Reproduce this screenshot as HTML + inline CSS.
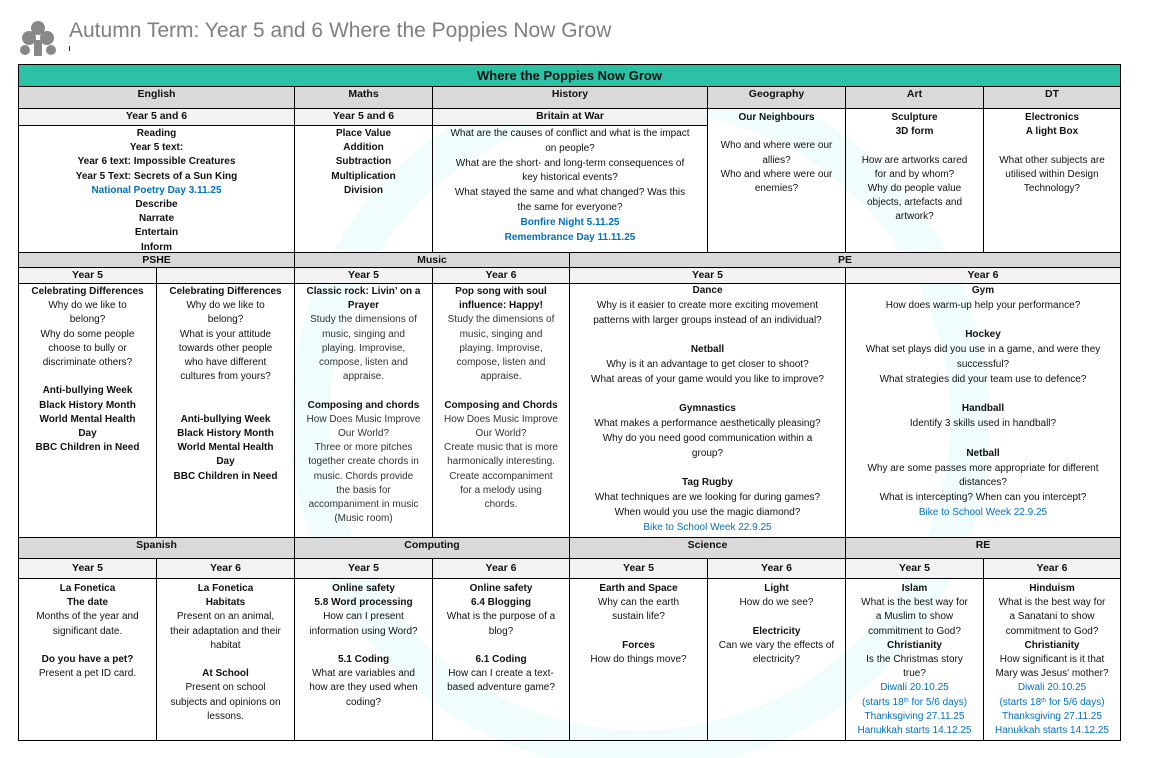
<!DOCTYPE html>
<html><head><meta charset="utf-8"><style>
*{margin:0;padding:0;box-sizing:border-box}
body{width:1151px;height:758px;background:#fff;position:relative;overflow:hidden;font-family:"Liberation Sans",sans-serif;color:#111}
.c{position:absolute;border:1px solid #000;text-align:center;font-size:10px;line-height:14.2px;overflow:hidden;padding:0 1px}
.s{background:#d9d9d9;font-weight:bold;line-height:15px;font-size:10.5px}
.y{background:#f2f2f2;font-weight:bold;line-height:15px;font-size:10.5px}
.t{padding-top:1px}
b{font-weight:bold}
.bl{color:#0070c0}
.g{color:#333}
</style></head><body>
<svg style="position:absolute;left:0;top:0" width="1151" height="758">
<circle cx="640" cy="420" r="330" fill="none" stroke="#f1fcfc" stroke-width="40"/>
<g fill="#888"><circle cx="38" cy="28" r="7"/><circle cx="29" cy="38" r="7"/><circle cx="47" cy="38" r="7"/><rect x="34" y="40" width="8" height="16"/><circle cx="25" cy="50" r="5"/><circle cx="51" cy="50" r="5"/></g>
</svg>
<div style="position:absolute;left:69px;top:19px;font-size:21px;color:#7f7f7f">Autumn Term: Year 5 and 6 Where the Poppies Now Grow</div>
<div style="position:absolute;left:69px;top:46px;width:1px;height:5px;background:#333"></div>

<div class="c" style="left:18px;top:64px;width:1103px;height:23px;background:#2cc0a4;font-weight:bold;font-size:13px;line-height:22px">Where the Poppies Now Grow</div>

<div class="c s" style="left:18px;top:86px;width:277px;height:23px">English</div>
<div class="c s" style="left:294px;top:86px;width:139px;height:23px">Maths</div>
<div class="c s" style="left:432px;top:86px;width:276px;height:23px">History</div>
<div class="c s" style="left:707px;top:86px;width:139px;height:23px">Geography</div>
<div class="c s" style="left:845px;top:86px;width:139px;height:23px">Art</div>
<div class="c s" style="left:983px;top:86px;width:138px;height:23px">DT</div>

<div class="c y" style="left:18px;top:108px;width:277px;height:18px">Year 5 and 6</div>
<div class="c y" style="left:294px;top:108px;width:139px;height:18px">Year 5 and 6</div>
<div class="c y" style="left:432px;top:108px;width:276px;height:18px">Britain at War</div>

<div class="c t" style="left:18px;top:125px;width:277px;height:128px"><b>Reading<br>Year 5 text:<br>Year 6 text: Impossible Creatures<br>Year 5 Text: Secrets of a Sun King<br><span class="bl">National Poetry Day 3.11.25</span><br>Describe<br>Narrate<br>Entertain<br>Inform</b></div>
<div class="c t" style="left:294px;top:125px;width:139px;height:128px"><b>Place Value<br>Addition<br>Subtraction<br>Multiplication<br>Division</b></div>
<div class="c t" style="left:432px;top:125px;width:276px;height:128px;line-height:14.8px">What are the causes of conflict and what is the impact<br>on people?<br>What are the short- and long-term consequences of<br>key historical events?<br>What stayed the same and what changed? Was this<br>the same for everyone?<br><b class="bl">Bonfire Night 5.11.25</b><br><b class="bl">Remembrance Day 11.11.25</b></div>
<div class="c" style="left:707px;top:108px;width:139px;height:145px;padding-top:2px"><b>Our Neighbours</b><br><br>Who and where were our<br>allies?<br>Who and where were our<br>enemies?</div>
<div class="c" style="left:845px;top:108px;width:139px;height:145px;padding-top:2px"><b>Sculpture<br>3D form</b><br><br>How are artworks cared<br>for and by whom?<br>Why do people value<br>objects, artefacts and<br>artwork?</div>
<div class="c" style="left:983px;top:108px;width:138px;height:145px;padding-top:2px"><b>Electronics<br>A light Box</b><br><br>What other subjects are<br>utilised within Design<br>Technology?</div>

<div class="c s" style="left:18px;top:252px;width:277px;height:16px;line-height:14px">PSHE</div>
<div class="c s" style="left:294px;top:252px;width:276px;height:16px;line-height:14px">Music</div>
<div class="c s" style="left:569px;top:252px;width:552px;height:16px;line-height:14px">PE</div>

<div class="c y" style="left:18px;top:267px;width:139px;height:17px;line-height:15px">Year 5</div>
<div class="c y" style="left:156px;top:267px;width:139px;height:17px"></div>
<div class="c y" style="left:294px;top:267px;width:139px;height:17px;line-height:15px">Year 5</div>
<div class="c y" style="left:432px;top:267px;width:138px;height:17px;line-height:15px">Year 6</div>
<div class="c y" style="left:569px;top:267px;width:277px;height:17px;line-height:15px">Year 5</div>
<div class="c y" style="left:845px;top:267px;width:276px;height:17px;line-height:15px">Year 6</div>

<div class="c t" style="left:18px;top:283px;width:139px;height:255px"><b>Celebrating Differences</b><br>Why do we like to<br>belong?<br>Why do some people<br>choose to bully or<br>discriminate others?<br><br><b>Anti-bullying Week<br>Black History Month<br>World Mental Health<br>Day<br>BBC Children in Need</b></div>
<div class="c t" style="left:156px;top:283px;width:139px;height:255px"><b>Celebrating Differences</b><br>Why do we like to<br>belong?<br>What is your attitude<br>towards other people<br>who have different<br>cultures from yours?<br><br><br><b>Anti-bullying Week<br>Black History Month<br>World Mental Health<br>Day<br>BBC Children in Need</b></div>
<div class="c t g" style="left:294px;top:283px;width:139px;height:255px"><b style="color:#111">Classic rock: Livin’ on a<br>Prayer</b><br>Study the dimensions of<br>music, singing and<br>playing. Improvise,<br>compose, listen and<br>appraise.<br><br><b style="color:#111">Composing and chords</b><br>How Does Music Improve<br>Our World?<br>Three or more pitches<br>together create chords in<br>music. Chords provide<br>the basis for<br>accompaniment in music<br>(Music room)</div>
<div class="c t g" style="left:432px;top:283px;width:138px;height:255px"><b style="color:#111">Pop song with soul<br>influence: Happy!</b><br>Study the dimensions of<br>music, singing and<br>playing. Improvise,<br>compose, listen and<br>appraise.<br><br><b style="color:#111">Composing and Chords</b><br>How Does Music Improve<br>Our World?<br>Create music that is more<br>harmonically interesting.<br>Create accompaniment<br>for a melody using<br>chords.</div>
<div class="c" style="left:569px;top:283px;width:277px;height:255px;line-height:14.8px;padding-top:0"><b>Dance</b><br>Why is it easier to create more exciting movement<br>patterns with larger groups instead of an individual?<br><br><b>Netball</b><br>Why is it an advantage to get closer to shoot?<br>What areas of your game would you like to improve?<br><br><b>Gymnastics</b><br>What makes a performance aesthetically pleasing?<br>Why do you need good communication within a<br>group?<br><br><b>Tag Rugby</b><br>What techniques are we looking for during games?<br>When would you use the magic diamond?<br><span class="bl">Bike to School Week 22.9.25</span></div>
<div class="c" style="left:845px;top:283px;width:276px;height:255px;line-height:14.8px;padding-top:0"><b>Gym</b><br>How does warm-up help your performance?<br><br><b>Hockey</b><br>What set plays did you use in a game, and were they<br>successful?<br>What strategies did your team use to defence?<br><br><b>Handball</b><br>Identify 3 skills used in handball?<br><br><b>Netball</b><br>Why are some passes more appropriate for different<br>distances?<br>What is intercepting? When can you intercept?<br><span class="bl">Bike to School Week 22.9.25</span></div>

<div class="c s" style="left:18px;top:537px;width:277px;height:22px">Spanish</div>
<div class="c s" style="left:294px;top:537px;width:276px;height:22px">Computing</div>
<div class="c s" style="left:569px;top:537px;width:277px;height:22px">Science</div>
<div class="c s" style="left:845px;top:537px;width:276px;height:22px">RE</div>

<div class="c y" style="left:18px;top:558px;width:139px;height:21px;line-height:19px">Year 5</div>
<div class="c y" style="left:156px;top:558px;width:139px;height:21px;line-height:19px">Year 6</div>
<div class="c y" style="left:294px;top:558px;width:139px;height:21px;line-height:19px">Year 5</div>
<div class="c y" style="left:432px;top:558px;width:138px;height:21px;line-height:19px">Year 6</div>
<div class="c y" style="left:569px;top:558px;width:139px;height:21px;line-height:19px">Year 5</div>
<div class="c y" style="left:707px;top:558px;width:139px;height:21px;line-height:19px">Year 6</div>
<div class="c y" style="left:845px;top:558px;width:139px;height:21px;line-height:19px">Year 5</div>
<div class="c y" style="left:983px;top:558px;width:138px;height:21px;line-height:19px">Year 6</div>

<div class="c t" style="left:18px;top:578px;width:139px;height:163px;padding-top:3px"><b>La Fonetica<br>The date</b><br>Months of the year and<br>significant date.<br><br><b>Do you have a pet?</b><br>Present a pet ID card.</div>
<div class="c t" style="left:156px;top:578px;width:139px;height:163px;padding-top:3px"><b>La Fonetica<br>Habitats</b><br>Present on an animal,<br>their adaptation and their<br>habitat<br><br><b>At School</b><br>Present on school<br>subjects and opinions on<br>lessons.</div>
<div class="c t" style="left:294px;top:578px;width:139px;height:163px;padding-top:3px"><b>Online safety<br>5.8 Word processing</b><br>How can I present<br>information using Word?<br><br><b>5.1 Coding</b><br>What are variables and<br>how are they used when<br>coding?</div>
<div class="c t" style="left:432px;top:578px;width:138px;height:163px;padding-top:3px"><b>Online safety<br>6.4 Blogging</b><br>What is the purpose of a<br>blog?<br><br><b>6.1 Coding</b><br>How can I create a text-<br>based adventure game?</div>
<div class="c t" style="left:569px;top:578px;width:139px;height:163px;padding-top:3px"><b>Earth and Space</b><br>Why can the earth<br>sustain life?<br><br><b>Forces</b><br>How do things move?</div>
<div class="c t" style="left:707px;top:578px;width:139px;height:163px;padding-top:3px"><b>Light</b><br>How do we see?<br><br><b>Electricity</b><br>Can we vary the effects of<br>electricity?</div>
<div class="c t" style="left:845px;top:578px;width:139px;height:163px;padding-top:3px"><b>Islam</b><br>What is the best way for<br>a Muslim to show<br>commitment to God?<br><b>Christianity</b><br>Is the Christmas story<br>true?<br><span class="bl">Diwali 20.10.25<br>(starts 18<span style="font-size:6px;vertical-align:3px;line-height:0">th</span> for 5/6 days)<br>Thanksgiving 27.11.25<br>Hanukkah starts 14.12.25</span></div>
<div class="c t" style="left:983px;top:578px;width:138px;height:163px;padding-top:3px"><b>Hinduism</b><br>What is the best way for<br>a Sanatani to show<br>commitment to God?<br><b>Christianity</b><br>How significant is it that<br>Mary was Jesus' mother?<br><span class="bl">Diwali 20.10.25<br>(starts 18<span style="font-size:6px;vertical-align:3px;line-height:0">th</span> for 5/6 days)<br>Thanksgiving 27.11.25<br>Hanukkah starts 14.12.25</span></div>
</body></html>
